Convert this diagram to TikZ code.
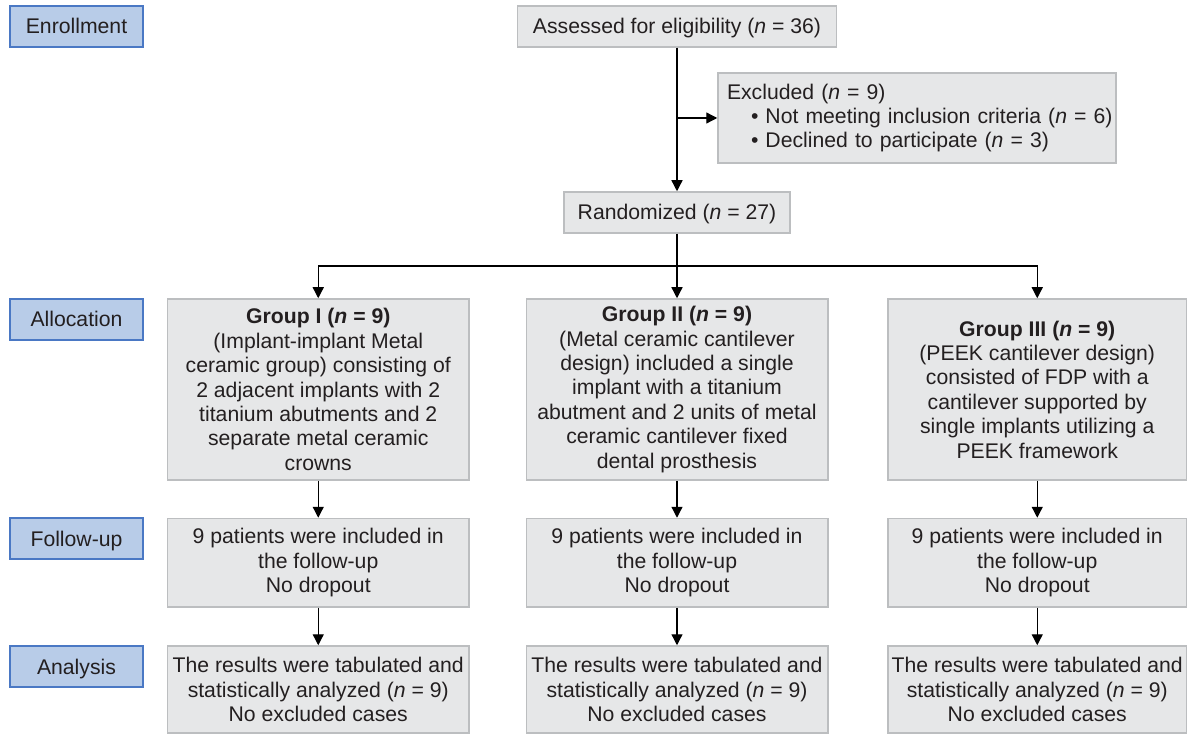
\documentclass[tikz,border=0pt]{standalone}
\usepackage{fontspec}
\setmainfont{Liberation Sans}
\usetikzlibrary{arrows.meta}
\definecolor{txt}{HTML}{231F20}
\definecolor{boxfill}{HTML}{E6E7E8}
\definecolor{boxdraw}{HTML}{BCBEC0}
\definecolor{lblfill}{HTML}{B8CCE8}
\definecolor{lbldraw}{HTML}{4A78C4}
\begin{document}
\begin{tikzpicture}[x=1pt,y=-1pt,
  font=\fontsize{21.2}{24.4}\selectfont, text=txt,
  gbox/.style={draw=boxdraw, fill=boxfill, line width=1.5pt, align=center, inner sep=0pt},
  single/.style={gbox, minimum height=41pt, text height=17pt, text depth=2pt},
  lbl/.style={draw=lbldraw, fill=lblfill, line width=1.8pt, minimum width=133pt, minimum height=41pt, inner sep=0pt, text height=17pt, text depth=2pt},
  grp/.style={gbox, minimum height=181pt},
  fup/.style={gbox, minimum height=88.5pt},
  ana/.style={gbox, minimum height=87pt},
  arr/.style={-{Triangle[length=11pt,width=11pt]}, line width=1.3pt, draw=black},
  ln/.style={line width=1.3pt, draw=black}]
\useasboundingbox (0,0) rectangle (1187,735);

% stage labels
\node[lbl] (enr) at (76.5,26.5) {Enrollment};
\node[lbl] (alloc) at (76.5,319.5) {Allocation};
\node[lbl] (fol) at (76.5,538.5) {Follow-up};
\node[lbl] (anl) at (76.5,666.5) {Analysis};

% enrollment
\node[single, minimum width=319pt] (assess) at (677,26.5) {Assessed for eligibility (\textit{n} = 36)};
\node[gbox, text width=380pt, inner xsep=9pt, minimum height=90pt, align=left] (excl) at (917,118)
  {\mbox{Excluded (\textit{n} = 9)}\\
   \mbox{\hspace*{24pt}\textbullet\ Not meeting inclusion criteria (\textit{n} = 6)}\\
   \mbox{\hspace*{24pt}\textbullet\ Declined to participate (\textit{n} = 3)}};
\node[single, minimum width=226pt] (rand) at (677,212.5) {Randomized (\textit{n} = 27)};

% allocation
\node[grp, minimum width=301.5pt] (g1) at (318.25,389.5)
  {\textbf{Group I (\textit{n} = 9)}\\(Implant-implant Metal\\ceramic group) consisting of\\2 adjacent implants with 2\\titanium abutments and 2\\separate metal ceramic\\crowns};
\node[grp, minimum width=301.5pt] (g2) at (677,389.5)
  {\textbf{Group II (\textit{n} = 9)}\\(Metal ceramic cantilever\\design) included a single\\implant with a titanium\\abutment and 2 units of metal\\ceramic cantilever fixed\\dental prosthesis};
\node[grp, minimum width=298.5pt] (g3) at (1037.25,389.5)
  {\textbf{Group III (\textit{n} = 9)}\\(PEEK cantilever design)\\consisted of FDP with a\\cantilever supported by\\single implants utilizing a\\PEEK framework};

% follow-up
\node[fup, minimum width=301.5pt] (f1) at (318.25,562.75) {9 patients were included in\\the follow-up\\No dropout};
\node[fup, minimum width=301.5pt] (f2) at (677,562.75) {9 patients were included in\\the follow-up\\No dropout};
\node[fup, minimum width=298.5pt] (f3) at (1037.25,562.75) {9 patients were included in\\the follow-up\\No dropout};

% analysis
\node[ana, minimum width=301.5pt] (a1) at (318.25,689.5) {The results were tabulated and\\statistically analyzed (\textit{n} = 9)\\No excluded cases};
\node[ana, minimum width=301.5pt] (a2) at (677,689.5) {The results were tabulated and\\statistically analyzed (\textit{n} = 9)\\No excluded cases};
\node[ana, minimum width=298.5pt] (a3) at (1037.25,689.5) {The results were tabulated and\\statistically analyzed (\textit{n} = 9)\\No excluded cases};

% connectors
\coordinate (e) at (677,118);
\coordinate (j) at (677,266);
\draw[arr] (assess) -- (rand);
\draw[arr] (e) -- (excl.west);
\draw[ln] (rand) -- (j);
\draw[arr] (j) -| (g1.north);
\draw[arr] (j) -| (g3.north);
\draw[arr] (j) -- (g2.north);
\draw[arr] (g1) -- (f1);
\draw[arr] (g2) -- (f2);
\draw[arr] (g3) -- (f3);
\draw[arr] (f1) -- (a1);
\draw[arr] (f2) -- (a2);
\draw[arr] (f3) -- (a3);
\end{tikzpicture}
\end{document}
